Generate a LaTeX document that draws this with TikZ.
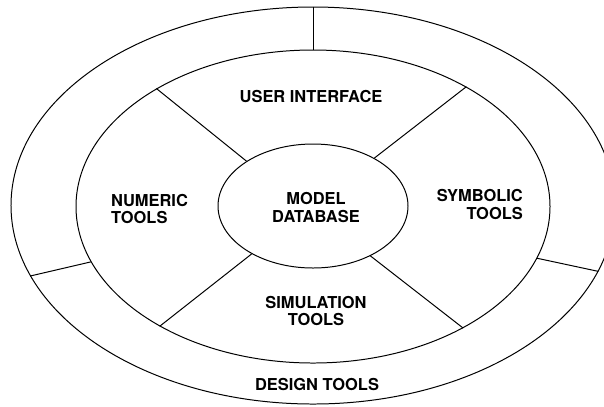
\documentclass[tikz,border=0pt]{standalone}
\usepackage{fontspec}
\setmainfont{TeX Gyre Heros}
\usetikzlibrary{shapes}
\tikzstyle{ring} = [draw, ellipse, inner sep=0pt, line width=1pt]
\tikzstyle{spoke} = [draw, line width=1pt]
\tikzstyle{toolname} = [inner sep=0pt, font=\fontsize{16.5}{18}\selectfont\bfseries]

\begin{document}
\begin{tikzpicture}[x=1bp, y=-1bp]
\clip (0,0) rectangle (604,406);

\node [ring, minimum width=604bp, minimum height=397bp] (designring) at (313,205.5) {};
\node [ring, minimum width=474bp, minimum height=313bp] (toolring) at (313,206.5) {};
\node [ring, minimum width=190bp, minimum height=124bp] (database) at (313,206) {};

% outer ring
\path [spoke] (designring.90) to (toolring.90);
\path [spoke] (designring.194) to (toolring.194);
\path [spoke] (designring.347) to (toolring.347);

% inner ring
\path [spoke] (toolring.143) to (database.146);
\path [spoke] (toolring.38) to (database.38);
\path [spoke] (toolring.218) to (database.218);
\path [spoke] (toolring.321) to (database.319);

\node [toolname] (ui) at (311,97) {USER INTERFACE};
\node [toolname, align=left, anchor=west] (numeric) at (111,209) {NUMERIC\\TOOLS};
\node [toolname, align=center] (model) at (316,207.5) {MODEL\\DATABASE};
\node [toolname, align=right, anchor=east] (symbolic) at (523,204.5) {SYMBOLIC\\TOOLS};
\node [toolname, align=center] (simulation) at (316,311) {SIMULATION\\TOOLS};
\node [toolname] (design) at (317,384) {DESIGN TOOLS};

\end{tikzpicture}
\end{document}
